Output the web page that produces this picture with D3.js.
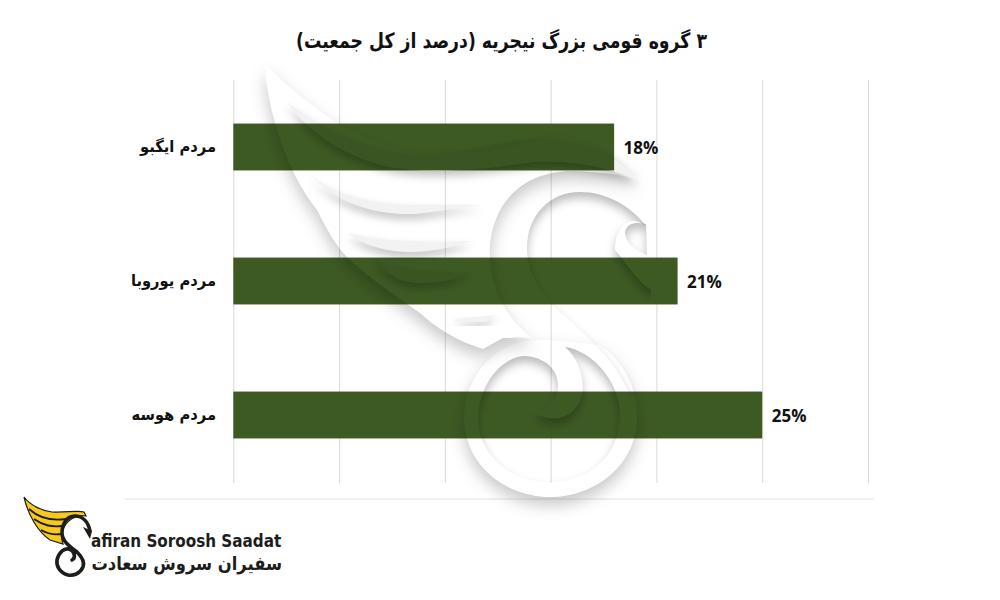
<!DOCTYPE html>
<html lang="fa"><head><meta charset="utf-8">
<script src="https://cdn.jsdelivr.net/npm/d3@7/dist/d3.min.js"></script>
<style>html,body{margin:0;background:#fff}svg{display:block}</style></head><body><svg id="c" width="1000" height="600"></svg>
<script>
const categories=["مردم ایگبو","مردم یوروبا","مردم هوسه"];
const values=[18,21,25];
const gridTicks=[0,5,10,15,20,25,30];
const titleText="۳ گروه قومی بزرگ نیجریه (درصد از کل جمعیت)";
const brandLatin="afiran Soroosh Saadat";
const brandPersian="سفیران سروش سعادت";

const svg=d3.select("#c");
const defs=svg.append("defs");
function outer(id,dy,blur,op){
  const f=defs.append("filter").attr("id",id).attr("x","-30%").attr("y","-30%").attr("width","160%").attr("height","170%");
  f.append("feGaussianBlur").attr("in","SourceAlpha").attr("stdDeviation",blur).attr("result","b");
  f.append("feOffset").attr("in","b").attr("dy",dy).attr("result","o");
  f.append("feFlood").attr("flood-color","#000").attr("flood-opacity",op).attr("result","c");
  f.append("feComposite").attr("in","c").attr("in2","o").attr("operator","in").attr("result","s");
  f.append("feComposite").attr("in","s").attr("in2","SourceAlpha").attr("operator","out");
}
function inner(id,dy,blur,op){
  const f=defs.append("filter").attr("id",id).attr("x","-30%").attr("y","-30%").attr("width","160%").attr("height","170%");
  f.append("feOffset").attr("in","SourceAlpha").attr("dy",dy).attr("result","o");
  f.append("feGaussianBlur").attr("in","o").attr("stdDeviation",blur).attr("result","b");
  f.append("feFlood").attr("flood-color","#000").attr("flood-opacity",op).attr("result","c");
  f.append("feComposite").attr("in","c").attr("in2","b").attr("operator","out").attr("result","s");
  f.append("feComposite").attr("in","s").attr("in2","SourceAlpha").attr("operator","in");
}
outer("shBody",8,8,.22);
outer("shFeather",5,4,.24);
inner("shHole",6,5,.26);
defs.append("clipPath").attr("id","neckClip").append("rect").attr("x",460).attr("y",150).attr("width",191).attr("height",350);

const x=d3.scaleLinear().domain([0,30]).range([233.3,868]);
const y=d3.scaleBand().domain(categories).range([80,482]).paddingInner(.65).paddingOuter(.325);

// title (condensed horizontally to the reference's width)
svg.append("text").attr("transform","translate(501.5,48) scale(.823,1)").attr("text-anchor","middle").attr("direction","rtl")
  .attr("font-family","DejaVu Sans").attr("font-weight","bold").attr("font-size",21).attr("fill","#111").text(titleText);

// grid
const gx=svg.append("g").attr("transform","translate(0,483)").call(d3.axisBottom(x).tickValues(gridTicks).tickSize(-403).tickFormat(""));
gx.select(".domain").remove();
gx.selectAll("line").attr("stroke","#d9d9d9").attr("stroke-width",1);

// bars
svg.append("g").selectAll("rect").data(categories).join("rect")
  .attr("x",x(0)).attr("y",d=>y(d)).attr("height",y.bandwidth())
  .attr("width",(d,i)=>x(values[i])-x(0)).attr("fill","#3e5a23");

// value labels
svg.append("g").selectAll("text").data(categories).join("text")
  .attr("x",(d,i)=>x(values[i])+9.5).attr("y",d=>y(d)+y.bandwidth()/2+6.5)
  .attr("font-family","Open Sans").attr("font-weight","bold").attr("font-size",17).attr("fill","#111")
  .text((d,i)=>values[i]+"%");

// category labels
const catG=svg.append("g");
catG.selectAll("text").data(categories).join("text")
  .attr("transform",d=>`translate(216,${y(d)+y.bandwidth()/2+5}) scale(.92,1)`)
  .attr("direction","rtl").attr("text-anchor","start")
  .attr("font-family","DejaVu Sans").attr("font-weight","bold").attr("font-size",16).attr("fill","#111").text(d=>d);

// baseline
svg.append("line").attr("x1",125).attr("x2",874).attr("y1",499).attr("y2",499).attr("stroke","#e2e2e2");

// watermark
const wm=svg.append("g");
const bodyPaths=[
 "M265,64 C266,95 275,125 283,147 C293,175 305,195 317,210 C326,228 335,245 347,257 C360,270 372,278 383,287 C398,297 408,305 420,313 C430,322 438,328 447,333 C458,340 470,345 483,349 L503,338 C515,338 525,336 535,340 C500,315 488,280 490,245 C495,195 530,170 575,171 C600,172 625,175 638,180 C620,160 590,140 557,137 C525,140 500,152 473,152 C440,155 420,155 407,152 C380,145 360,135 340,125 C315,108 285,85 265,64 Z",
 "M535,340 C500,340 465,372 464,417 C464,465 505,497 550,497 C595,497 637,465 637,417 C637,385 622,360 600,345 L550,340 Z"
];
wm.append("g").selectAll("path").data(bodyPaths).join("path")
  .attr("d",d=>d).attr("fill","#000").attr("filter","url(#shBody)");
const feathers=[
 "M287,102 C320,125 345,140 385,150 C420,158 450,155 480,148 C520,138 570,132 613,157 L637,180 C610,168 575,160 535,162 C490,168 440,175 395,168 C350,160 310,135 287,102 Z",
 "M310,173 C330,195 375,205 420,205 L482,205 C455,208 430,213 413,214 C380,215 335,205 310,173 Z",
 "M348,233 C375,240 410,243 472,241 C450,248 430,252 412,252 C390,252 365,247 348,233 Z",
 "M373,258 C395,268 430,273 472,272 C455,280 440,282 425,283 C418,284 408,282 400,280 C390,275 380,268 373,258 Z",
 "M453,320 C470,317 485,316 497,315 L485,322 C470,322 462,323 453,320 Z"
];
const fg=wm.append("g");
fg.selectAll("path.s").data(feathers).join("path").attr("class","s")
  .attr("d",d=>d).attr("fill","#000").attr("filter","url(#shFeather)");
fg.selectAll("path.f").data(feathers).join("path").attr("class","f")
  .attr("d",d=>d).attr("fill","#000").attr("fill-opacity",.05);
const holes=[
 "M645,225 C630,205 605,192 580,192 C550,192 527,215 527,248 C527,280 550,305 575,325 C590,340 615,360 630,395 L760,395 L760,290 L652,290 C640,285 628,265 615,250 C615,225 630,215 645,225 Z",
 "M478,417 C480,380 505,356 525,356 C545,357 558,370 558,385 C558,400 548,410 533,412 C552,424 575,420 582,395 C585,378 578,358 565,347 C590,350 620,380 620,415 C620,455 590,482 550,482 C510,482 478,455 478,417 Z",
 "M625,232 C627,222 637,222 646,224 L647,255 C635,250 625,243 625,232 Z"
];
wm.append("g").attr("clip-path","url(#neckClip)").selectAll("path").data(holes).join("path")
  .attr("d",d=>d).attr("fill","#000").attr("filter","url(#shHole)");

// logo
const logo=svg.append("g");
logo.append("path").attr("d","M24,497 C30,505 42,511 52,512 C64,513 78,510 84,512 L86,516 C76,514 66,520 62,532 C61,537 62,541 63,544 L50,540 C38,532 28,515 24,497 Z").attr("fill","#f7c81e").attr("stroke","#1d1d1b").attr("stroke-width",1.2);
logo.append("path").attr("fill","none").attr("stroke","#1d1d1b").attr("stroke-width",1.8)
  .attr("d","M29,509 C40,519 52,521 66,519 M34,519 C44,526 52,527 62,526 M41,530 C48,534 54,535 61,534");
logo.append("path").attr("fill","none").attr("stroke","#1d1d1b").attr("stroke-width",3.6).attr("stroke-linecap","round")
  .attr("d","M90,531 C88,521 82,516 75,516 C66,516 62,525 62,533 C62,542 72,548 77,552 C82,557 85,562 83,567 C80,574 73,576 68,575 C60,573 56,566 57,560 C59,552 64,548 69,549 C75,551 76,558 72,560");
logo.append("path").attr("fill","#1d1d1b").attr("d","M83,527 L92,531 L90,539 Z");
logo.append("text").attr("transform","translate(91,547) scale(.875,1)").attr("font-family","DejaVu Sans").attr("font-weight","bold").attr("font-size",17.4).attr("fill","#1d1d1b").text(brandLatin);
logo.append("text").attr("transform","translate(282,570) scale(.86,1)").attr("text-anchor","start").attr("direction","rtl").attr("font-family","DejaVu Sans").attr("font-weight","bold").attr("font-size",19).attr("fill","#1d1d1b").text(brandPersian);
</script></body></html>
